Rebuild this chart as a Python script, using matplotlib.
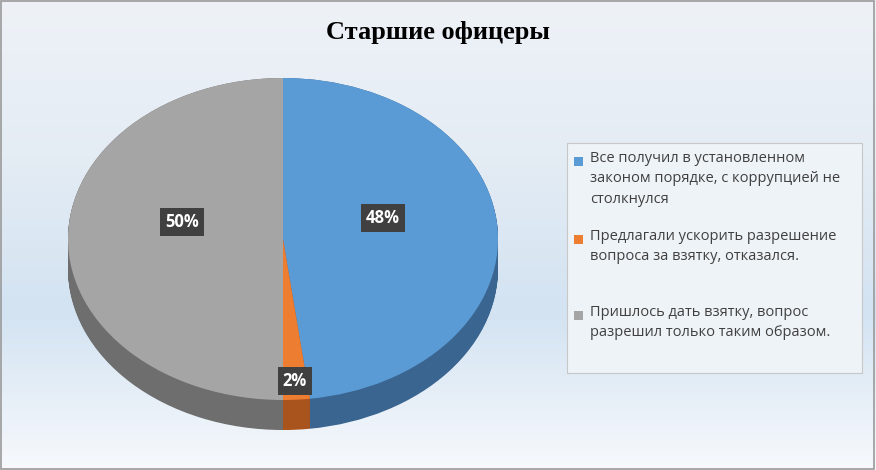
import matplotlib
matplotlib.use("Agg")
import matplotlib.pyplot as plt
import numpy as np
from matplotlib.patches import Rectangle
from matplotlib.colors import LinearSegmentedColormap

labels = ["Все получил в установленном\nзаконом порядке, с коррупцией не\nстолкнулся",
          "Предлагали ускорить разрешение\nвопроса за взятку, отказался.",
          "Пришлось дать взятку, вопрос\nразрешил только таким образом."]
values = [48, 2, 50]
pct_labels = ["48%", "2%", "50%"]
top_colors = ["#5b9bd5", "#ed7d31", "#a5a5a5"]
side_colors = ["#3a6590", "#a9541c", "#6e6e6e"]

W, H = 876, 470
fig = plt.figure(figsize=(W/100, H/100), dpi=100)

bg = fig.add_axes([0, 0, 1, 1])
cmap = LinearSegmentedColormap.from_list("g", ["#f7f9fc", "#d3e3f2", "#e4ecf4", "#eef2f7"])
grad = np.linspace(0, 1, 256).reshape(-1, 1)
bg.imshow(grad, aspect="auto", cmap=cmap, extent=[0, 1, 0, 1], origin="lower")
bg.add_patch(Rectangle((0.001, 0.002), 0.997, 0.995, fill=False, ec="#9a9a9a", lw=1.2))
bg.set_xlim(0, 1); bg.set_ylim(0, 1); bg.axis("off")

fig.text(438/W, 1-33/H, "Старшие офицеры", ha="center", va="center",
         fontsize=19, fontweight="bold", family="Liberation Serif")

x0, x1, y0, y1 = 68, 498, 78, 430
ax = fig.add_axes([x0/W, 1-y1/H, (x1-x0)/W, (y1-y0)/H])
ry = 161.0
depth = 30/ry
for d in np.linspace(depth, 0, 40):
    ax.pie(values, colors=side_colors, startangle=90, counterclock=False,
           center=(0, -d), radius=1, wedgeprops=dict(lw=0))
ax.pie(values, colors=top_colors, startangle=90, counterclock=False,
       center=(0, 0), radius=1, wedgeprops=dict(lw=0))
ax.set_aspect("auto")
ax.set_xlim(-1, 1)
ax.set_ylim(-1-depth, 1)
ax.axis("off")

for txt, (px, py) in zip(pct_labels, [(383, 218), (295, 381), (182, 222)]):
    fig.text(px/W, 1-py/H, txt, ha="center", va="center", color="white",
             fontsize=12, fontweight="bold", family="Open Sans",
             bbox=dict(boxstyle="square,pad=0.3", fc="#404040", ec="none"))

bg.add_patch(Rectangle((567/W, 1-373/H), (862-567)/W, (373-143)/H,
                       fc="#eef3f8", ec="#c8c8c8", lw=0.8))
for lab, col, py in zip(labels, top_colors, [161, 239, 315]):
    bg.add_patch(Rectangle((574/W, 1-(py+5)/H), 9/W, 9/H, fc=col, ec="none"))
    fig.text(590/W, 1-(py-10)/H, lab, ha="left", va="top", fontsize=10.5,
             family="Open Sans", color="#404040", linespacing=1.5)

fig.savefig("out.png", dpi=100)
